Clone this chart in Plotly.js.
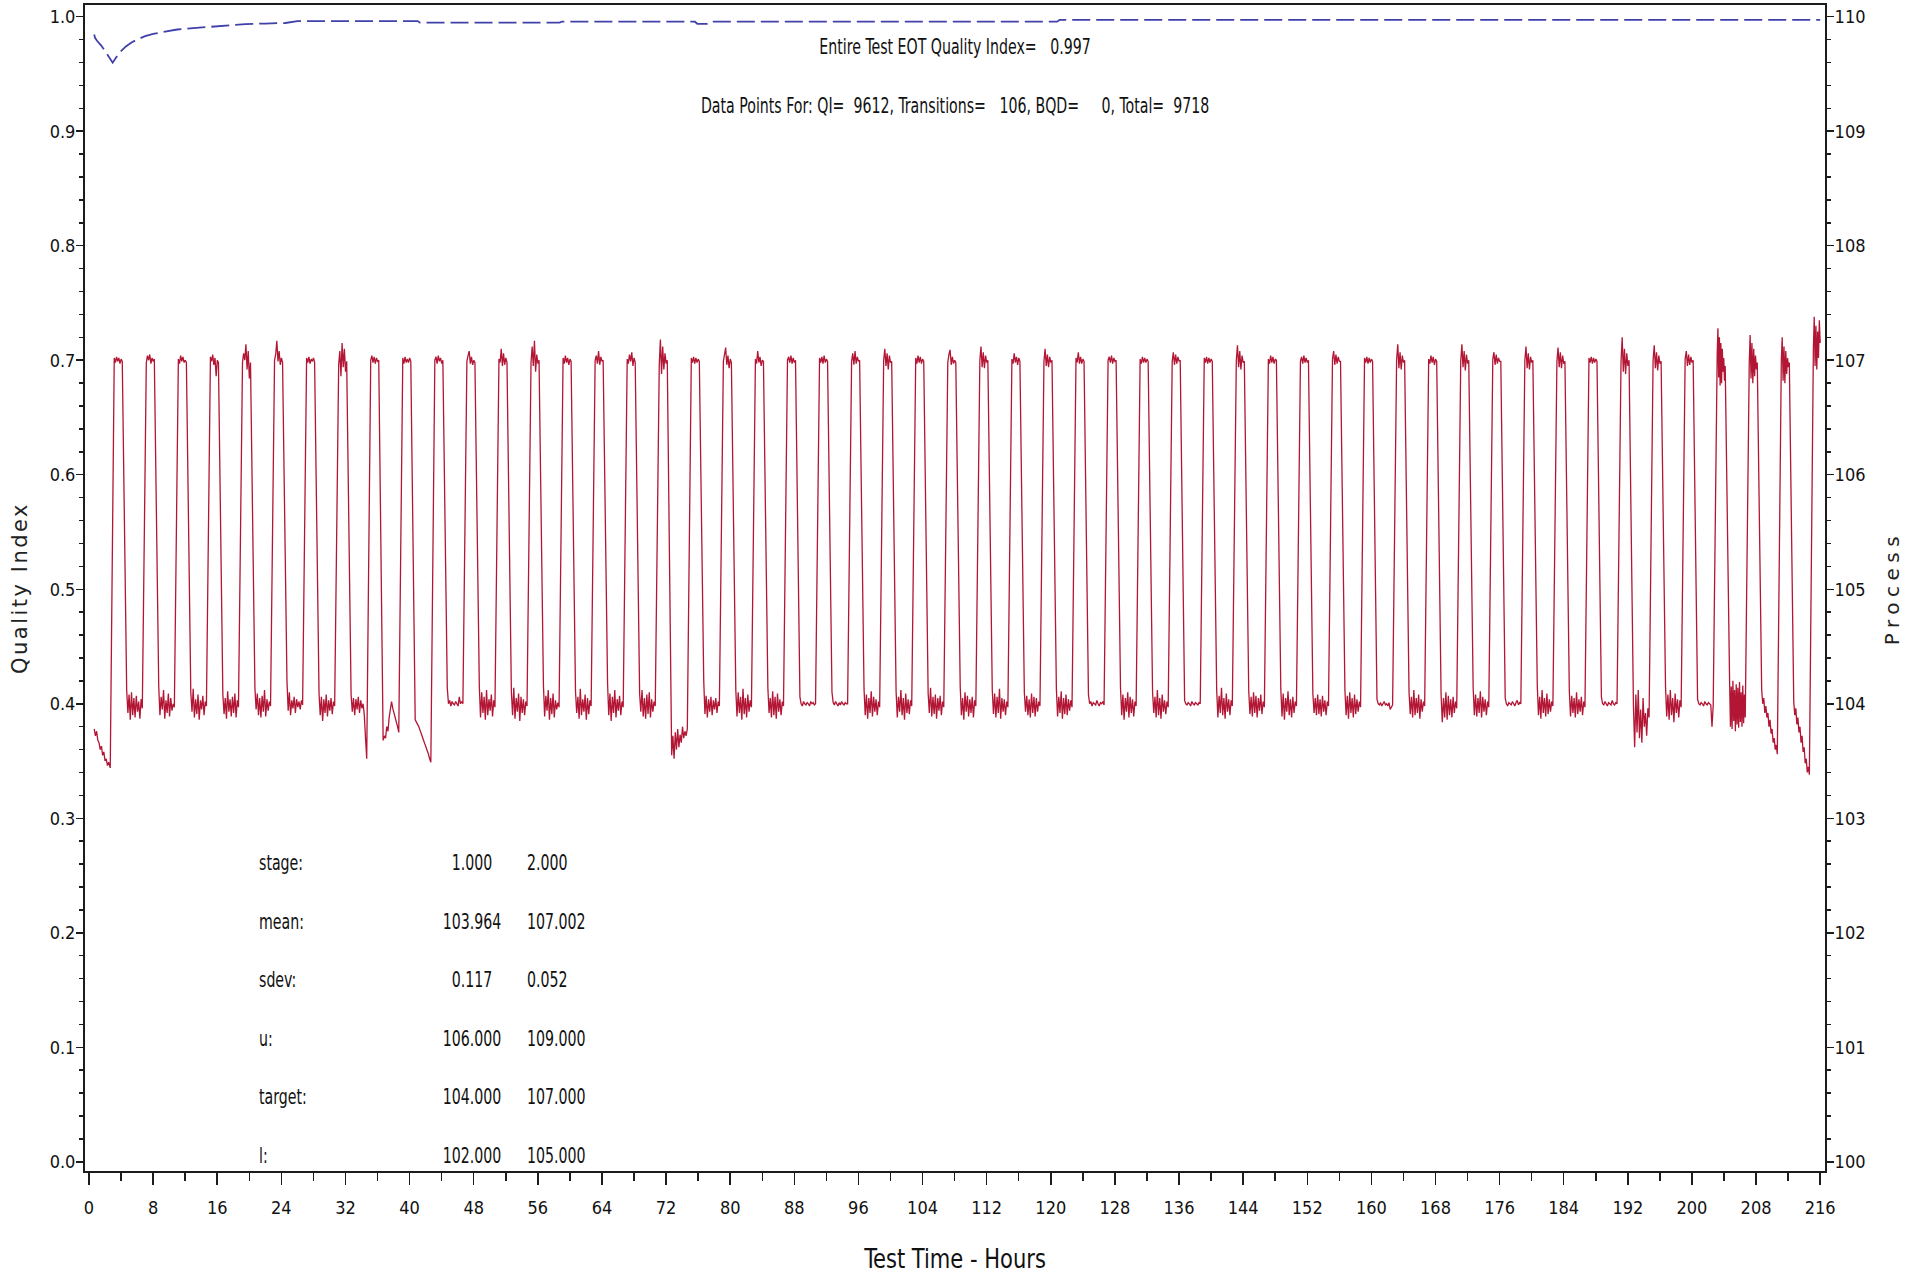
<!DOCTYPE html>
<html><head><meta charset="utf-8">
<script src="https://cdn.plot.ly/plotly-3.0.1.min.js"></script>
<style>html,body{margin:0;padding:0;background:#fff;} #chart{width:1925px;height:1275px;}</style>
</head><body><div id="chart"></div>
<script>
// ---------------- DATA ----------------
// Quality index (left axis), cumulative
const qiHours = [0.65,0.75,1.0,1.5,2.0,2.5,2.95,3.4,4.0,4.6,5.3,6.0,7.0,8.0,9.5,11.0,13.0,15.0,17.5,19.5,22.0,24.5,26.0,41.0,41.3,58.7,59.0,75.6,75.9,77.1,77.4,120.8,121.1,216.0];
const qiValues = [0.9845,0.9815,0.979,0.975,0.970,0.965,0.9598,0.9645,0.970,0.974,0.9775,0.980,0.983,0.985,0.987,0.9888,0.990,0.991,0.992,0.9935,0.994,0.9945,0.9962,0.9962,0.9948,0.9948,0.9956,0.9956,0.9938,0.9938,0.9956,0.9956,0.9972,0.9972];

// Process (right axis): initial stage-1 segment before the first rise
const initHours = [0.65,0.8,0.95,1.1,1.25,1.4,1.55,1.7,1.85,2.0,2.15,2.3,2.45,2.65];
const initValues = [103.78,103.72,103.76,103.68,103.66,103.60,103.63,103.55,103.58,103.50,103.52,103.46,103.49,103.44];

// Hour at which each rise to stage 2 starts
const riseHours = [2.65,6.65,10.65,14.65,18.65,22.65,26.65,30.65,34.65,38.65,42.65,46.65,50.65,54.65,58.65,62.65,66.65,70.65,74.65,78.65,82.65,86.65,90.65,94.65,98.65,102.65,106.65,110.65,114.65,118.65,122.65,126.65,130.65,134.65,138.65,142.65,146.65,150.65,154.65,158.65,162.65,166.65,170.65,174.65,178.65,182.65,186.65,190.65,194.65,198.65,202.65,206.65,210.65,214.65];

// Stage 2 plateau readings (one list per cycle)
const highValues = [
 [107.02,106.98,107.03,106.99,107.02,106.97,107.01,106.99],
 [106.98,107.04,107.00,107.05,106.97,107.02,106.99,107.01],
 [107.01,106.97,107.04,106.99,107.03,106.98,107.00,106.98],
 [107.03,106.99,107.05,106.96,107.02,106.86,107.00,106.98],
 [106.98,107.06,107.00,107.14,106.92,107.08,106.84,106.98],
 [107.00,107.05,107.17,106.99,107.08,106.96,107.02,106.98],
 [107.02,106.98,107.03,106.97,107.01,106.99,107.02,106.98],
 [106.96,107.08,106.86,107.15,106.94,107.10,106.90,106.99],
 [107.00,107.04,106.98,107.03,106.97,107.02,106.99,107.00],
 [107.02,106.97,107.03,106.98,107.01,106.98,107.02,106.99],
 [107.00,107.03,106.97,107.04,106.99,107.02,106.97,107.00],
 [106.99,107.04,107.08,106.97,107.03,106.96,107.00,106.98],
 [107.01,106.98,107.10,106.95,107.06,106.96,107.02,106.98],
 [106.98,107.12,106.95,107.17,106.90,107.05,106.97,107.00],
 [107.02,106.97,107.04,106.98,107.02,106.96,107.01,106.99],
 [107.00,107.04,106.97,107.08,106.96,107.03,106.99,107.00],
 [107.01,106.97,107.05,106.99,107.07,106.95,107.02,106.98],
 [106.96,107.18,106.88,107.12,106.92,107.06,106.97,107.00],
 [107.02,106.98,107.03,106.97,107.02,106.98,107.01,106.99],
 [106.99,107.05,107.11,106.96,107.04,106.93,107.01,106.98],
 [107.01,106.97,107.08,106.98,107.03,106.95,107.00,106.99],
 [107.00,107.03,106.98,107.04,106.97,107.02,106.98,107.00],
 [107.02,106.98,107.03,106.97,107.04,106.98,107.01,106.99],
 [106.99,107.06,106.96,107.08,106.97,107.03,106.99,107.00],
 [107.00,107.10,106.95,107.06,106.92,107.04,106.98,106.99],
 [107.02,106.97,107.04,106.98,107.03,106.97,107.01,106.99],
 [106.98,107.05,107.09,106.96,107.03,106.97,107.00,106.98],
 [107.00,107.12,106.94,107.07,106.93,107.04,106.98,107.00],
 [107.01,106.97,107.06,106.98,107.03,106.96,107.02,106.99],
 [106.99,107.10,106.95,107.05,106.94,107.03,106.98,107.00],
 [107.02,106.98,107.07,106.97,107.03,106.97,107.01,106.99],
 [107.00,107.03,106.98,107.04,106.97,107.02,106.99,107.00],
 [107.01,106.97,107.03,106.98,107.02,106.98,107.01,106.99],
 [106.99,107.07,106.96,107.05,106.97,107.03,106.99,107.00],
 [107.02,106.98,107.03,106.97,107.02,106.98,107.01,106.99],
 [107.00,107.13,106.94,107.08,106.92,107.04,106.98,106.99],
 [107.01,106.97,107.04,106.98,107.03,106.97,107.01,107.00],
 [106.99,107.03,106.97,107.04,106.98,107.02,106.98,107.00],
 [107.01,107.08,106.96,107.05,106.97,107.03,106.99,106.99],
 [107.02,106.98,107.03,106.97,107.02,106.98,107.01,106.99],
 [107.00,107.14,106.93,107.07,106.92,107.04,106.98,107.00],
 [107.01,106.97,107.04,106.98,107.03,106.96,107.01,106.99],
 [106.99,107.14,106.94,107.08,106.91,107.05,106.97,107.00],
 [107.01,107.07,106.96,107.05,106.97,107.02,106.99,106.99],
 [107.00,107.12,106.93,107.06,106.92,107.03,106.98,107.00],
 [106.99,107.11,106.94,107.07,106.93,107.04,106.97,106.99],
 [107.02,106.98,107.03,106.97,107.02,106.98,107.01,106.99],
 [106.98,107.20,106.90,107.10,106.88,107.06,106.95,107.00],
 [107.00,107.13,106.93,107.07,106.91,107.04,106.97,106.99],
 [107.01,107.08,106.95,107.05,106.96,107.03,106.98,107.00],
 [107.05,107.28,106.85,107.20,106.78,107.15,106.80,107.10,106.90,107.02,106.82,106.95],
 [106.98,107.22,106.84,107.15,106.80,107.10,106.86,107.04,106.92,106.98],
 [107.00,107.20,106.82,107.12,106.80,107.08,106.88,107.02,106.94,106.98],
 [107.10,107.38,106.95,107.30,106.92,107.25,107.02,107.35,107.15]
];

// Stage 1 plateau readings following each cycle's stage 2 plateau
const lowValues = [
 [104.12,103.92,104.08,103.86,104.10,103.90,104.05,103.88,104.07,103.93,104.02,103.87,104.04,103.96],
 [104.15,103.90,104.06,103.95,104.12,103.87,104.03,103.92,104.09,103.89,104.05,103.94,104.00,103.97],
 [104.10,103.93,104.13,103.88,104.04,103.91,104.08,103.86,104.03,103.95,104.07,103.90,104.02,103.98],
 [104.08,103.91,104.05,103.87,104.11,103.93,104.04,103.89,104.06,103.92,104.09,103.88,104.03,103.97],
 [104.14,103.95,104.09,103.90,104.05,103.88,104.07,103.93,104.12,103.89,104.04,103.94,104.02,103.98],
 [104.20,103.94,104.10,103.90,104.03,103.96,104.06,103.92,104.04,103.97,104.02,103.95,104.03,103.99],
 [104.09,103.90,104.06,103.85,104.04,103.92,104.08,103.89,104.03,103.94,104.05,103.91,104.02,103.98],
 [104.08,103.93,104.05,103.90,104.04,103.95,104.06,103.92,104.03,103.96,104.00,103.90,103.70,103.52],
 [103.68,103.72,103.70,103.80,103.76,103.88,103.95,104.02,103.96,103.92,103.88,103.84,103.80,103.75],
 [103.86,103.84,103.82,103.80,103.77,103.74,103.71,103.68,103.65,103.62,103.59,103.56,103.52,103.49],
 [104.14,104.00,104.03,103.98,104.02,104.00,103.99,104.02,104.00,103.98,104.06,104.00,104.02,104.00],
 [104.15,103.88,104.10,103.92,104.06,103.86,104.12,103.90,104.04,103.94,104.08,103.89,104.03,103.97],
 [104.10,103.90,104.14,103.87,104.05,103.93,104.09,103.85,104.06,103.92,104.04,103.90,104.02,103.98],
 [104.16,103.89,104.07,103.94,104.12,103.86,104.05,103.91,104.09,103.88,104.03,103.95,104.01,103.97],
 [104.11,103.92,104.06,103.87,104.13,103.90,104.04,103.93,104.08,103.86,104.05,103.91,104.03,103.98],
 [104.18,103.90,104.09,103.85,104.06,103.92,104.12,103.88,104.04,103.94,104.07,103.90,104.02,103.97],
 [104.09,103.93,104.12,103.89,104.05,103.87,104.08,103.91,104.10,103.88,104.04,103.93,104.02,103.98],
 [103.55,103.72,103.52,103.75,103.60,103.78,103.62,103.73,103.66,103.80,103.70,103.76,103.72,103.78],
 [104.20,103.91,104.07,103.88,104.04,103.93,104.06,103.90,104.03,103.95,104.05,103.92,104.02,103.98],
 [104.12,103.89,104.10,103.92,104.06,103.86,104.13,103.91,104.05,103.88,104.08,103.93,104.03,103.97],
 [104.14,103.92,104.05,103.88,104.11,103.90,104.06,103.87,104.09,103.93,104.04,103.90,104.02,103.98],
 [104.06,104.00,103.98,104.02,104.00,103.99,104.01,104.00,103.98,104.02,104.00,104.01,103.99,104.00],
 [104.10,104.01,103.99,104.02,104.00,103.98,104.01,103.99,104.02,104.00,103.99,104.01,104.00,104.00],
 [104.13,103.90,104.08,103.87,104.05,103.92,104.11,103.89,104.06,103.93,104.04,103.90,104.02,103.97],
 [104.11,103.88,104.06,103.93,104.12,103.90,104.05,103.86,104.09,103.92,104.04,103.91,104.03,103.98],
 [104.09,103.92,104.14,103.89,104.06,103.91,104.08,103.87,104.05,103.94,104.07,103.90,104.02,103.97],
 [104.15,103.90,104.05,103.86,104.10,103.93,104.07,103.89,104.04,103.92,104.06,103.88,104.03,103.98],
 [104.12,103.91,104.09,103.88,104.06,103.92,104.13,103.87,104.05,103.93,104.04,103.90,104.02,103.97],
 [104.10,103.93,104.07,103.90,104.04,103.88,104.09,103.92,104.06,103.89,104.05,103.93,104.02,103.98],
 [104.13,103.89,104.06,103.92,104.11,103.87,104.05,103.91,104.08,103.90,104.04,103.94,104.03,103.97],
 [104.08,104.00,104.02,103.98,104.01,104.00,103.99,104.03,104.00,103.98,104.01,104.00,104.02,103.99],
 [104.14,103.90,104.08,103.86,104.05,103.93,104.10,103.88,104.06,103.92,104.04,103.89,104.02,103.98],
 [104.10,103.92,104.06,103.88,104.12,103.90,104.05,103.87,104.08,103.93,104.03,103.91,104.02,103.97],
 [104.03,104.00,103.99,104.01,104.00,103.98,104.02,104.00,103.99,104.01,104.00,103.99,104.01,104.00],
 [104.12,103.88,104.07,103.92,104.14,103.90,104.05,103.87,104.09,103.93,104.04,103.90,104.03,103.98],
 [104.11,103.91,104.06,103.89,104.10,103.92,104.07,103.88,104.05,103.94,104.08,103.91,104.02,103.97],
 [104.13,103.89,104.09,103.86,104.05,103.93,104.11,103.90,104.04,103.88,104.06,103.92,104.02,103.98],
 [104.09,103.92,104.05,103.90,104.08,103.91,104.04,103.89,104.07,103.93,104.03,103.90,104.02,103.98],
 [104.12,103.90,104.07,103.87,104.10,103.92,104.05,103.88,104.08,103.91,104.04,103.93,104.02,103.97],
 [104.04,104.00,103.99,104.01,103.98,104.00,104.02,103.99,104.00,103.98,104.01,103.95,103.97,103.99],
 [104.10,103.91,104.06,103.88,104.12,103.90,104.05,103.92,104.08,103.87,104.04,103.93,104.02,103.98],
 [104.08,103.84,104.05,103.88,104.10,103.86,104.07,103.90,104.04,103.88,104.06,103.92,104.02,103.96],
 [104.14,103.90,104.08,103.89,104.05,103.92,104.11,103.88,104.06,103.93,104.04,103.90,104.02,103.97],
 [104.05,104.00,103.98,104.01,104.00,103.99,104.02,104.00,103.98,104.01,104.03,103.99,104.01,104.00],
 [104.16,103.90,104.06,103.87,104.12,103.92,104.05,103.89,104.09,103.91,104.04,103.93,104.02,103.98],
 [104.11,103.89,104.07,103.92,104.05,103.88,104.10,103.91,104.04,103.93,104.06,103.90,104.02,103.97],
 [104.06,104.00,103.99,104.02,104.00,103.98,104.01,104.00,103.99,104.03,104.00,103.99,104.01,104.00],
 [103.98,103.62,104.08,103.75,104.12,103.70,103.95,103.66,104.05,103.80,103.92,103.72,103.96,103.88],
 [104.15,103.89,104.08,103.86,104.12,103.90,104.05,103.84,104.09,103.92,104.04,103.88,104.03,103.97],
 [104.04,104.00,103.99,104.01,104.00,103.98,104.02,104.00,103.99,104.01,104.00,103.99,103.80,103.98],
 [104.18,103.80,104.15,103.78,104.20,103.85,104.12,103.76,104.17,103.82,104.14,103.79,104.19,103.84,104.10,103.80,104.16,103.83,104.08,103.88],
 [104.12,104.00,104.05,103.92,103.98,103.88,103.92,103.80,103.86,103.74,103.78,103.66,103.70,103.60,103.64,103.56],
 [104.02,103.90,103.96,103.82,103.88,103.75,103.80,103.66,103.72,103.58,103.62,103.48,103.52,103.40,103.45,103.38]
];

// Axis ticks
const hourTicks = [0,8,16,24,32,40,48,56,64,72,80,88,96,104,112,120,128,136,144,152,160,168,176,184,192,200,208,216];
const qiTicks = [0,0.1,0.2,0.3,0.4,0.5,0.6,0.7,0.8,0.9,1.0];
const qiTickText = ['0.0','0.1','0.2','0.3','0.4','0.5','0.6','0.7','0.8','0.9','1.0'];
const processTicks = [100,101,102,103,104,105,106,107,108,109,110];

// Text
const qiSummary = 'Entire Test EOT Quality Index=\u00a0\u00a0\u00a00.997';
const pointSummary = 'Data Points For: QI=\u00a0\u00a09612, Transitions=\u00a0\u00a0\u00a0106, BQD=\u00a0\u00a0\u00a0\u00a0\u00a00, Total=\u00a0\u00a09718';
const statLabels = ['stage:','mean:','sdev:','u:','target:','l:'];
const stage1Stats = ['1.000','103.964','0.117','106.000','104.000','102.000'];
const stage2Stats = ['2.000','107.002','0.052','109.000','107.000','105.000'];

// ---------------- BUILD ----------------
const endHour = 216.0;
const highStart = 0.5, highEnd = 1.5, lowStart = 2.05, lowEnd = 4.0;
const px = [], py = [];
initHours.forEach((h, i) => { px.push(h); py.push(initValues[i]); });
riseHours.forEach((r, k) => {
  const hv = highValues[k];
  const he = Math.min(r + highEnd, endHour);
  hv.forEach((v, i) => { px.push(r + highStart + (he - r - highStart) * i / (hv.length - 1)); py.push(v); });
  const lv = lowValues[k];
  if (lv) lv.forEach((v, i) => { px.push(r + lowStart + (lowEnd - lowStart) * i / (lv.length - 1)); py.push(v); });
});

const narrow = "'DejaVu Sans Condensed', 'Liberation Sans Narrow', sans-serif";
const axisColor = '#1c1c1c';
const textColor = '#111';
const noteFont = { family: narrow, size: 21, color: textColor };

const traces = [
  { x: px, y: py, yaxis: 'y2', type: 'scatter', mode: 'lines',
    line: { color: 'rgb(178,22,52)', width: 1.3, simplify: false }, hoverinfo: 'skip' },
  { x: qiHours, y: qiValues, type: 'scatter', mode: 'lines',
    line: { color: 'rgb(64,64,170)', width: 1.8, dash: '18px,6px' }, hoverinfo: 'skip' }
];

const annotations = [
  { text: qiSummary, xref: 'paper', yref: 'paper', x: 0.5, y: 0.9643, xanchor: 'center', yanchor: 'middle', align: 'center', showarrow: false, font: noteFont },
  { text: pointSummary, xref: 'paper', yref: 'paper', x: 0.5, y: 0.9137, xanchor: 'center', yanchor: 'middle', align: 'center', showarrow: false, font: noteFont }
];
const rowTop = 0.2609, rowStep = 0.0511;
statLabels.forEach((lab, i) => {
  const yy = rowTop - i * rowStep;
  annotations.push({ text: lab, xref: 'x', yref: 'y', x: 20.9, y: yy, xanchor: 'left', yanchor: 'middle', align: 'left', showarrow: false, font: noteFont });
  annotations.push({ text: stage1Stats[i], xref: 'x', yref: 'y', x: 47.8, y: yy, xanchor: 'center', yanchor: 'middle', align: 'center', showarrow: false, font: noteFont });
  annotations.push({ text: stage2Stats[i], xref: 'x', yref: 'y', x: 54.4, y: yy, xanchor: 'left', yanchor: 'middle', align: 'left', showarrow: false, font: noteFont });
});

const layout = {
  width: 1925, height: 1275,
  margin: { l: 85, r: 100, t: 5, b: 104, pad: 0 },
  paper_bgcolor: '#ffffff', plot_bgcolor: '#ffffff',
  showlegend: false,
  xaxis: {
    range: [-0.5, 216.6], tickmode: 'array', tickvals: hourTicks, ticktext: hourTicks.map(String),
    ticks: 'outside', ticklen: 12, tickwidth: 1.5, tickcolor: axisColor,
    showline: true, linecolor: axisColor, linewidth: 2, mirror: true,
    showgrid: false, zeroline: false,
    tickfont: { family: narrow, size: 18, color: textColor }, ticklabelstandoff: 7,
    minor: { tickmode: 'linear', tick0: 0, dtick: 4, ticks: 'outside', ticklen: 8, tickwidth: 1.5, tickcolor: axisColor, showgrid: false },
    title: { text: 'Test Time - Hours', font: { family: narrow, size: 26, color: textColor }, standoff: 33 }
  },
  yaxis: {
    range: [-0.008, 1.0102], tickmode: 'array', tickvals: qiTicks, ticktext: qiTickText,
    ticks: 'outside', ticklen: 7, tickwidth: 1.5, tickcolor: axisColor,
    showline: true, linecolor: axisColor, linewidth: 2,
    showgrid: false, zeroline: false,
    tickfont: { family: narrow, size: 18, color: textColor }, ticklabelstandoff: -3,
    minor: { tickmode: 'linear', tick0: 0, dtick: 0.02, ticks: 'outside', ticklen: 4, tickwidth: 1.5, tickcolor: axisColor, showgrid: false },
    title: { text: 'Quality Index', font: { family: 'DejaVu Sans, sans-serif', size: 21, color: '#222' }, standoff: 16 }
  },
  yaxis2: {
    overlaying: 'y', side: 'right', anchor: 'x',
    range: [99.92, 110.102], tickmode: 'array', tickvals: processTicks, ticktext: processTicks.map(String),
    ticks: 'outside', ticklen: 7, tickwidth: 1.5, tickcolor: axisColor,
    showline: true, linecolor: axisColor, linewidth: 2,
    showgrid: false, zeroline: false,
    tickfont: { family: narrow, size: 18, color: textColor }, ticklabelstandoff: -3,
    minor: { tickmode: 'linear', tick0: 100, dtick: 0.2, ticks: 'outside', ticklen: 4, tickwidth: 1.5, tickcolor: axisColor, showgrid: false },
    title: { text: 'Process', font: { family: 'DejaVu Sans, sans-serif', size: 20, color: '#222' }, standoff: 20 }
  },
  annotations: annotations
};

// Narrow the rendered glyphs horizontally (the source uses a tall, condensed plotter font)
function squeeze(el, sx) {
  const x = parseFloat(el.getAttribute('x')) || 0;
  const y = parseFloat(el.getAttribute('y')) || 0;
  const prev = el.getAttribute('transform') || '';
  el.setAttribute('transform', (prev + ' translate(' + x + ',' + y + ') scale(' + sx + ',1) translate(' + (-x) + ',' + (-y) + ')').trim());
}

Plotly.newPlot('chart', traces, layout, { staticPlot: true, displayModeBar: false }).then(function (gd) {
  gd.querySelectorAll('.annotation-text').forEach(function (el) { squeeze(el, 0.75); });
  gd.querySelectorAll('.xtitle').forEach(function (el) { squeeze(el, 0.9); });
  gd.querySelectorAll('.ytitle').forEach(function (el) { el.style.letterSpacing = '2.5px'; });
  gd.querySelectorAll('.y2title').forEach(function (el) { el.style.letterSpacing = '5.5px'; });
});
</script></body></html>
